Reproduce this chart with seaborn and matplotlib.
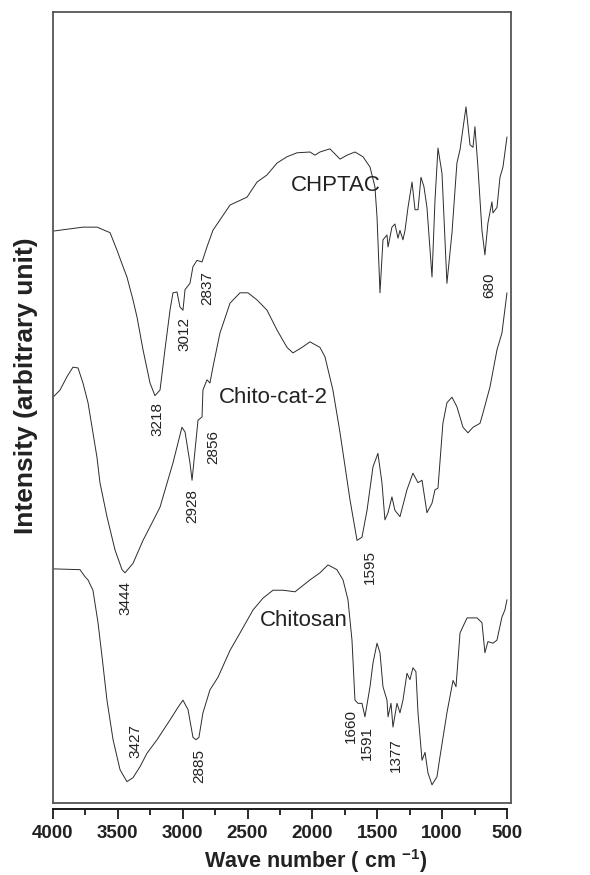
import numpy as np
import pandas as pd
import matplotlib
matplotlib.use("Agg")
import matplotlib.pyplot as plt
from matplotlib.ticker import MultipleLocator
import seaborn as sns

# FTIR spectra (wavenumber in cm-1, stacked intensity in arbitrary units)
chptac_wn = [4000, 3770, 3660, 3560, 3507, 3460, 3430, 3383, 3352, 3306, 3252, 3214,
             3175, 3137, 3098, 3075, 3044, 3021, 2998, 2982, 2944, 2921, 2890, 2851,
             2813, 2767, 2635, 2582, 2504, 2427, 2350, 2273, 2196, 2119, 2019, 1980,
             1942, 1865, 1787, 1733, 1672, 1610, 1556, 1518, 1502, 1479, 1456, 1425,
             1417, 1387, 1364, 1340, 1325, 1302, 1286, 1263, 1232, 1209, 1186, 1163,
             1140, 1117, 1078, 1055, 1032, 1001, 963, 924, 886, 862, 816, 785, 762,
             747, 724, 693, 670, 647, 616, 608, 577, 554, 531, 500]
chptac_int = [72.3, 72.8, 72.8, 72.1, 69.9, 67.8, 66.5, 63.6, 61.4, 57.3, 53.1, 51.5,
              52.2, 57.3, 62.3, 64.5, 64.6, 62.7, 62.3, 64.9, 65.7, 67.8, 68.6, 68.4,
              70.3, 72.4, 75.6, 76.0, 76.6, 78.5, 79.4, 80.9, 81.7, 82.2, 82.3, 81.9,
              82.3, 82.7, 81.4, 81.9, 82.3, 81.7, 80.4, 77.9, 74.1, 64.5, 71.2, 71.8,
              70.3, 72.8, 73.2, 71.4, 72.4, 71.2, 72.4, 75.3, 78.5, 75.0, 75.0, 79.1,
              77.9, 75.3, 66.5, 76.2, 82.8, 79.6, 65.7, 72.1, 80.9, 82.6, 88.0, 83.2,
              82.9, 85.5, 80.4, 72.4, 69.3, 73.3, 76.0, 74.6, 75.3, 79.1, 80.4, 84.2]

chitocat_wn = [4000, 3946, 3892, 3846, 3807, 3769, 3730, 3699, 3661, 3638, 3584, 3522,
               3468, 3445, 3383, 3306, 3237, 3175, 3075, 3006, 2982, 2944, 2928, 2905,
               2882, 2851, 2844, 2813, 2790, 2767, 2713, 2635, 2558, 2497, 2427, 2350,
               2273, 2196, 2150, 2080, 2019, 1942, 1903, 1842, 1787, 1710, 1656, 1618,
               1579, 1533, 1495, 1464, 1441, 1417, 1387, 1364, 1325, 1271, 1225, 1186,
               1155, 1117, 1078, 1055, 1032, 994, 963, 924, 886, 839, 801, 762, 708,
               685, 631, 577, 539, 500]
chitocat_int = [51.3, 52.2, 53.9, 55.1, 55.0, 53.1, 50.6, 47.5, 43.7, 40.5, 36.2, 32.0,
                29.5, 29.1, 30.3, 33.2, 35.4, 37.4, 43.0, 47.5, 46.9, 43.0, 40.8, 44.6,
                48.4, 48.8, 52.2, 53.5, 53.1, 55.1, 59.4, 63.2, 64.5, 64.5, 63.6, 62.3,
                59.8, 57.6, 56.9, 57.6, 58.3, 57.6, 56.4, 52.2, 46.8, 38.3, 33.2, 33.6,
                37.0, 42.5, 44.2, 40.5, 35.8, 36.7, 38.7, 37.0, 36.2, 39.6, 41.7, 40.5,
                40.8, 36.7, 37.9, 39.6, 39.8, 48.0, 50.6, 51.3, 50.1, 47.5, 46.8, 47.5,
                48.0, 49.3, 52.6, 57.3, 59.4, 64.5]

chitosan_wn = [4000, 3792, 3753, 3730, 3692, 3653, 3622, 3584, 3537, 3483, 3430, 3383,
               3329, 3275, 3198, 3098, 3036, 2998, 2959, 2921, 2898, 2875, 2844, 2790,
               2728, 2635, 2558, 2458, 2381, 2350, 2304, 2227, 2134, 2096, 2019, 1942,
               1880, 1811, 1764, 1726, 1695, 1672, 1649, 1618, 1595, 1556, 1533, 1502,
               1479, 1456, 1425, 1417, 1394, 1379, 1348, 1325, 1302, 1271, 1248, 1225,
               1202, 1186, 1155, 1132, 1109, 1078, 1040, 1017, 963, 916, 893, 862, 808,
               731, 693, 670, 647, 608, 577, 539, 516, 500]
chitosan_int = [29.6, 29.5, 28.6, 28.2, 26.9, 22.8, 18.5, 13.0, 8.0, 4.2, 2.7, 3.2,
                4.6, 6.3, 8.0, 10.5, 12.1, 13.0, 11.8, 8.3, 8.0, 8.3, 11.4, 14.3,
                15.9, 19.3, 21.5, 24.4, 25.9, 26.3, 26.9, 26.9, 26.7, 27.2, 28.2, 29.1,
                30.1, 29.5, 28.2, 25.7, 20.6, 13.0, 12.6, 12.6, 10.9, 14.7, 17.7, 20.2,
                19.0, 14.7, 13.0, 10.9, 12.6, 9.6, 12.6, 11.4, 13.0, 16.4, 15.6, 17.1,
                16.6, 11.4, 5.4, 6.4, 3.8, 2.3, 3.3, 5.8, 11.4, 15.5, 14.7, 21.5, 23.4,
                23.4, 22.8, 19.0, 20.4, 20.2, 20.6, 23.5, 24.4, 25.7]

# Curve names and their label anchor positions
sample_names = ["CHPTAC", "Chito-cat-2", "Chitosan"]
name_wn = [1818, 2304, 2065]
name_int = [78.1, 51.3, 23.1]

# Band assignments written beside the curves
band_labels = ["3218", "3012", "2837", "680", "2928", "2856", "3444", "1595",
               "3427", "2885", "1660", "1591", "1377"]
band_wn = [3191, 2990, 2813, 639, 2928, 2767, 3445, 1556, 3368, 2874, 1703, 1579, 1356]
band_int = [48.5, 59.3, 65.1, 65.5, 37.5, 45.0, 25.9, 29.8, 7.8, 4.7, 9.7, 7.6, 6.1]

xticks = [4000, 3500, 3000, 2500, 2000, 1500, 1000, 500]

sns.set_theme(style="white")
plt.rcParams["font.family"] = ["Liberation Sans", "DejaVu Sans"]
plt.rcParams["mathtext.fontset"] = "custom"
plt.rcParams["mathtext.rm"] = "Liberation Sans"
plt.rcParams["mathtext.bf"] = "Liberation Sans:bold"

frames = []
for name, wn, inten in [("CHPTAC", chptac_wn, chptac_int),
                        ("Chito-cat-2", chitocat_wn, chitocat_int),
                        ("Chitosan", chitosan_wn, chitosan_int)]:
    frames.append(pd.DataFrame({"wn": wn, "intensity": inten, "sample": name}))
spectra = pd.concat(frames, ignore_index=True)

fig = plt.figure(figsize=(5.9, 8.75), dpi=100)
ax = fig.add_axes([53 / 590, 1 - 803 / 875, 458 / 590, 791 / 875])

sns.lineplot(data=spectra, x="wn", y="intensity", units="sample", estimator=None,
             color="#2b2b2b", linewidth=0.7, sort=False, ax=ax, legend=False)

ax.set_xlim(4000, 469)
ax.set_ylim(0, 100)

# boxed frame; the scale axis sits just below it
for side in ["top", "left", "right"]:
    ax.spines[side].set_color("#555555")
    ax.spines[side].set_linewidth(1.3)
ax.axhline(0, color="#555555", linewidth=1.3, clip_on=False)
ax.spines["bottom"].set_position(("outward", 4.5))
ax.spines["bottom"].set_bounds(4000, 500)
ax.spines["bottom"].set_color("#1a1a1a")
ax.spines["bottom"].set_linewidth(1.4)

ax.set_yticks([])
ax.set_xticks(xticks)
ax.xaxis.set_minor_locator(MultipleLocator(250))
ax.tick_params(axis="x", which="major", direction="out", length=7.5, width=1.3,
               color="#1a1a1a", bottom=True, pad=4, labelsize=13.5)
ax.tick_params(axis="x", which="minor", direction="out", length=4, width=1.3,
               color="#1a1a1a", bottom=True)
for t in ax.get_xticklabels():
    t.set_fontweight("bold")
    t.set_color("#222222")

ax.set_xlabel(r"Wave number ( cm $^{\mathbf{-1}}$)", fontsize=15.5, fontweight="bold",
              color="#222222")
ax.xaxis.set_label_coords(0.574, -0.056)
ax.set_ylabel("Intensity (arbitrary unit)", fontsize=19, fontweight="bold",
              color="#222222")
ax.yaxis.set_label_coords(-0.033, 0.527)

for name, x, y in zip(sample_names, name_wn, name_int):
    ax.text(x, y, name, fontsize=16, ha="center", va="center", color="#222222")

for lab, x, y in zip(band_labels, band_wn, band_int):
    ax.text(x, y, lab, fontsize=11, rotation=90, ha="center", va="center",
            color="#222222")

fig.savefig("out.png", dpi=100)
